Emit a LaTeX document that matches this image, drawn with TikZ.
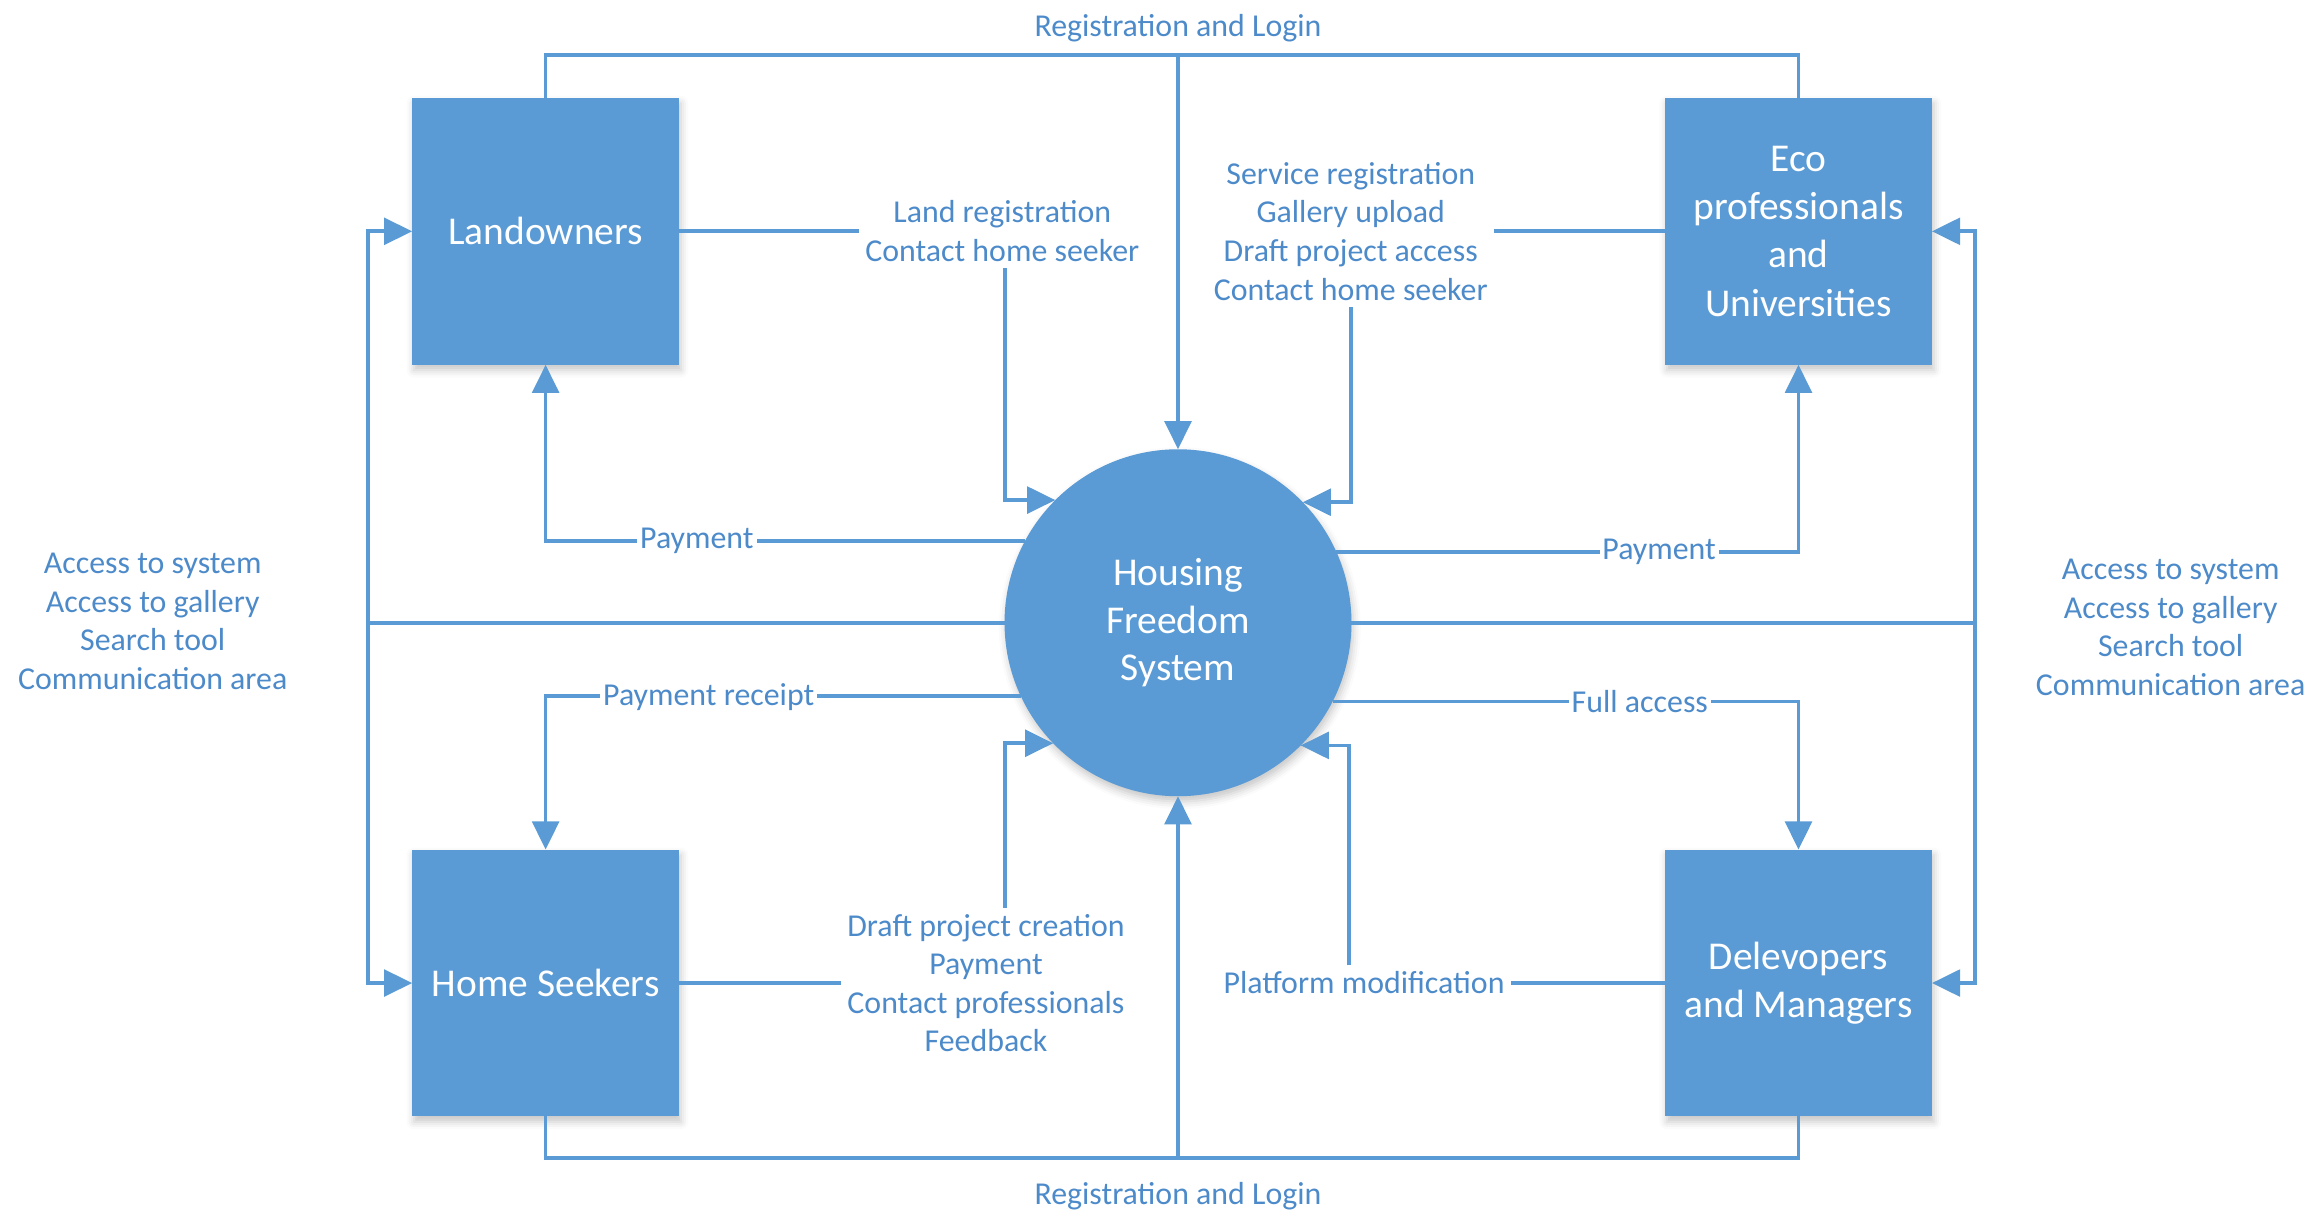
\documentclass[tikz,border=0pt]{standalone}
\usepackage{fontspec}
\setmainfont{Carlito}
\usetikzlibrary{arrows.meta,shadows.blur}
\definecolor{blu}{RGB}{91,155,213}
\definecolor{txtb}{RGB}{76,138,202}
\begin{document}
\begin{tikzpicture}[x=0.5pt,y=0.5pt,
  conn/.style={draw=blu, line width=1.25pt},
  arr/.style={conn, -{Triangle[length=9.5pt,width=9pt]}, blu},
  shad/.style={blur shadow={shadow xshift=0.6pt, shadow yshift=-1.8pt, shadow blur radius=2.5pt, shadow opacity=22}},
  ent/.style={rectangle, fill=blu, minimum width=90pt, minimum height=90pt, inner sep=0pt, outer sep=0pt,
    text=white, align=center, font=\fontsize{13.3}{16.3}\selectfont, shad},
  proc/.style={circle, fill=blu, minimum size=117pt, inner sep=0pt, outer sep=0pt,
    text=white, align=center, font=\fontsize{13.3}{16}\selectfont, shad},
  lbl/.style={text=txtb, align=center, font=\fontsize{10.75}{13}\selectfont, inner sep=2pt},
  onl/.style={lbl, fill=white, inner sep=1pt}
]
\useasboundingbox (0,0) rectangle (1560,-827);

% entities
\node[ent] (L) at (368,-156) {Landowners};
\node[ent] (E) at (1213,-156) {Eco\\professionals\\and\\Universities};
\node[ent] (H) at (368,-663) {Home Seekers};
\node[ent] (D) at (1213,-663) {Delevopers\\and Managers};
\node[proc] (C) at (794.5,-420) {Housing\\Freedom\\System};

% helper coordinates
\coordinate (topc) at (794.5,-37);
\coordinate (botc) at (794.5,-781);
\coordinate (vl) at (678,0);
\coordinate (vr) at (911,0);
\coordinate (vr2) at (910,0);
\coordinate (lb) at (248,-420);
\coordinate (rb) at (1332,-420);

% labels (flows)
\node[lbl] (lr) at (676,-156) {Land registration\\Contact home seeker};
\node[lbl] (sr) at (911,-156) {Service registration\\Gallery upload\\Draft project access\\Contact home seeker};
\node[lbl] (dp) at (665,-663) {Draft project creation\\Payment\\Contact professionals\\Feedback};
\node[lbl] (pm) at (920,-663) {Platform modification};
\node[lbl] (rlt) at (794.5,-19) {Registration and Login};
\node[lbl] (rlb) at (794.5,-807) {Registration and Login};
\node[lbl] (accl) at (103,-419) {Access to system\\Access to gallery\\Search tool\\Communication area};
\node[lbl] (accr) at (1464,-423) {Access to system\\Access to gallery\\Search tool\\Communication area};

% registration and login
\draw[conn] (L.north) |- (topc) -| (E.north);
\draw[arr] (topc) -- (C.north);
\draw[conn] (H.south) |- (botc) -| (D.south);
\draw[arr] (botc) -- (C.south);

% landowners / eco inputs
\draw[conn] (L.east) -- (lr.west);
\draw[arr] (lr.south -| vl) |- (C.135.5);
\draw[conn] (E.west) -- (sr.east);
\draw[arr] (sr.south -| vr) |- (C.44.5);

% home seekers / developers inputs
\draw[conn] (H.east) -- (dp.west);
\draw[arr] (dp.north -| vl) |- (C.224.5);
\draw[conn] (D.west) -- (pm.east);
\draw[arr] (pm.north -| vr2) |- (C.315.5);

% outputs
\draw[arr] (C.152) -| (L.south);
\draw[arr] (C.24.2) -| (E.south);
\draw[arr] (C.205.3) -| (H.north);
\draw[arr] (C.333.1) -| (D.north);
\node[onl] (p1) at (470,-365) {Payment};
\node[onl] (p2) at (1119,-372) {Payment};
\node[onl] (p3) at (478,-470) {Payment receipt};
\node[onl] (p4) at (1106,-473) {Full access};

% access buses
\draw[conn] (C.west) -- (lb);
\draw[arr] (lb) |- (L.west);
\draw[arr] (lb) |- (H.west);
\draw[conn] (C.east) -- (rb);
\draw[arr] (rb) |- (E.east);
\draw[arr] (rb) |- (D.east);
\end{tikzpicture}
\end{document}
